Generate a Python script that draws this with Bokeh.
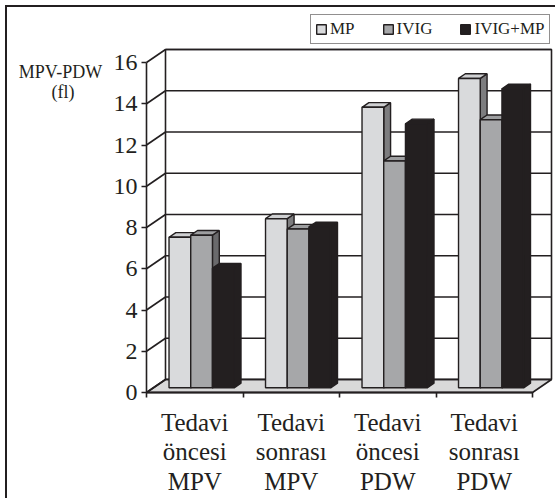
from bokeh.plotting import figure
from bokeh.models import Range1d, FixedTicker, Legend, LegendItem, Label
from bokeh.embed import file_html
from bokeh.resources import INLINE

# ---------------- data ----------------
categories = ["Tedavi\nöncesi\nMPV", "Tedavi\nsonrası\nMPV",
              "Tedavi\nöncesi\nPDW", "Tedavi\nsonrası\nPDW"]
series_names = ["MP", "IVIG", "IVIG+MP"]
mp_values = [7.3, 8.2, 13.6, 15.0]
ivig_values = [7.4, 7.7, 11.0, 13.0]
ivig_mp_values = [5.8, 7.8, 12.8, 14.5]
y_ticks = [0, 2, 4, 6, 8, 10, 12, 14, 16]
y_title = ["MPV-PDW", "(fl)"]

# ---------------- layout / style ----------------
INK = "#231f20"
FONT = "Liberation Serif"
W, H = 550, 493
OX, OY = 139, 385         # canvas px of the front origin (x=0, value=0)
PX_X = 96.5               # px per category
PX_Y = 20.625             # px per value unit
DX = 19 / PX_X            # depth vector (data units)
DY = 13 / PX_Y
N_CAT = len(categories)
Y_TOP = y_ticks[-1]
T1, DEPTH = 0.36, 0.36    # bar depth position / thickness (fraction of depth)
BAR_W = 0.225
G0 = 0.5 - 1.5 * BAR_W

front_colors = ["#d9dadc", "#a6a7a9", INK]
top_colors = ["#cfd0d2", "#9d9ea0", INK]
side_colors = ["#7d7d7f", "#6a6a6c", INK]


def to_data(cx, cy):
    return (cx - OX) / PX_X, (OY - cy) / PX_Y


p = figure(width=W, height=H,
           x_range=Range1d(-OX / PX_X, (W - OX) / PX_X),
           y_range=Range1d(-(H - OY) / PX_Y, OY / PX_Y),
           output_backend="svg", toolbar_location=None,
           min_border_left=0, min_border_top=0, min_border_right=0, min_border_bottom=0)
p.styles = {"position": "absolute", "left": "5px", "top": "5px",
            "border-left": "2px solid " + INK, "border-top": "2px solid " + INK}
p.xgrid.visible = False
p.ygrid.visible = False
p.outline_line_color = None
p.background_fill_color = "white"
p.border_fill_color = "white"

# ---- walls ----
p.patch([DX, N_CAT + DX, N_CAT + DX, DX], [DY, DY, Y_TOP + DY, Y_TOP + DY],
        fill_color="white", line_color=INK, line_width=1.6)
p.patch([0, N_CAT, N_CAT + DX, DX], [0, 0, DY, DY],
        fill_color="#d9d9d9", line_color=INK, line_width=1.6)
p.segment(x0=[DX] * len(y_ticks), y0=[v + DY for v in y_ticks],
          x1=[N_CAT + DX] * len(y_ticks), y1=[v + DY for v in y_ticks],
          line_color=INK, line_width=1.6)
p.segment(x0=[0] * len(y_ticks), y0=y_ticks,
          x1=[DX] * len(y_ticks), y1=[v + DY for v in y_ticks],
          line_color=INK, line_width=1.6)

# ---- bars ----
all_series = [mp_values, ivig_values, ivig_mp_values]
legend_items = []
for s, vals in enumerate(all_series):
    fx, fy, tx, ty, sx, sy = [], [], [], [], [], []
    for c, v in enumerate(vals):
        x0 = c + G0 + s * BAR_W + T1 * DX
        x1 = x0 + BAR_W
        y0 = T1 * DY
        y1 = v + T1 * DY
        ddx, ddy = DEPTH * DX, DEPTH * DY
        fx.append([x0, x1, x1, x0]); fy.append([y0, y0, y1, y1])
        tx.append([x0, x1, x1 + ddx, x0 + ddx]); ty.append([y1, y1, y1 + ddy, y1 + ddy])
        sx.append([x1, x1 + ddx, x1 + ddx, x1]); sy.append([y0, y0 + ddy, y1 + ddy, y1])
    p.patches(sx, sy, fill_color=side_colors[s], line_color=INK, line_width=1.4)
    p.patches(tx, ty, fill_color=top_colors[s], line_color=INK, line_width=1.4)
    r = p.patches(fx, fy, fill_color=front_colors[s], line_color=INK, line_width=1.4)
    legend_items.append(LegendItem(label=series_names[s], renderers=[r]))

# ---- axes (fixed at the front origin) ----
ya = p.yaxis[0]
ya.fixed_location = 0
ya.ticker = FixedTicker(ticks=y_ticks, minor_ticks=[])
ya.bounds = (0, Y_TOP)
ya.axis_line_color = INK
ya.axis_line_width = 1.6
ya.major_tick_in = 0
ya.major_tick_out = 5
ya.major_tick_line_color = INK
ya.major_tick_line_width = 1.6
ya.major_label_standoff = 4
ya.major_label_text_font = FONT
ya.major_label_text_font_size = "24px"
ya.major_label_text_color = INK

xa = p.xaxis[0]
xa.fixed_location = 0
centers = [c + 0.5 for c in range(N_CAT)]
xa.ticker = FixedTicker(ticks=centers, minor_ticks=list(range(N_CAT + 1)))
xa.major_label_overrides = {centers[i]: categories[i] for i in range(N_CAT)}
xa.bounds = (0, N_CAT)
xa.axis_line_color = INK
xa.axis_line_width = 1.8
xa.major_tick_line_color = None
xa.major_tick_in = 0
xa.major_tick_out = 5
xa.minor_tick_in = 0
xa.minor_tick_out = 5
xa.minor_tick_line_color = INK
xa.minor_tick_line_width = 1.6
xa.major_label_standoff = 11
xa.major_label_text_font = FONT
xa.major_label_text_font_size = "25px"
xa.major_label_text_line_height = 1.1
xa.major_label_text_color = INK

# ---- y title ----
for txt, (cx, cy) in zip(y_title, [(53, 64.5), (55.5, 84.5)]):
    lx, ly = to_data(cx, cy)
    p.add_layout(Label(x=lx, y=ly, text=txt, text_font=FONT, text_font_size="18px",
                       text_color=INK, text_align="center", text_baseline="alphabetic"))

# ---- legend ----
legend = Legend(items=legend_items, orientation="horizontal",
                location=(303, H - 37),
                padding=4, spacing=27, margin=0,
                glyph_width=12, glyph_height=12, label_standoff=3,
                label_text_font=FONT, label_text_font_size="17px", label_text_color=INK,
                border_line_color=INK, border_line_width=1.5,
                background_fill_color="white", background_fill_alpha=1)
p.add_layout(legend)

open("out.html", "w").write(file_html(p, INLINE))
